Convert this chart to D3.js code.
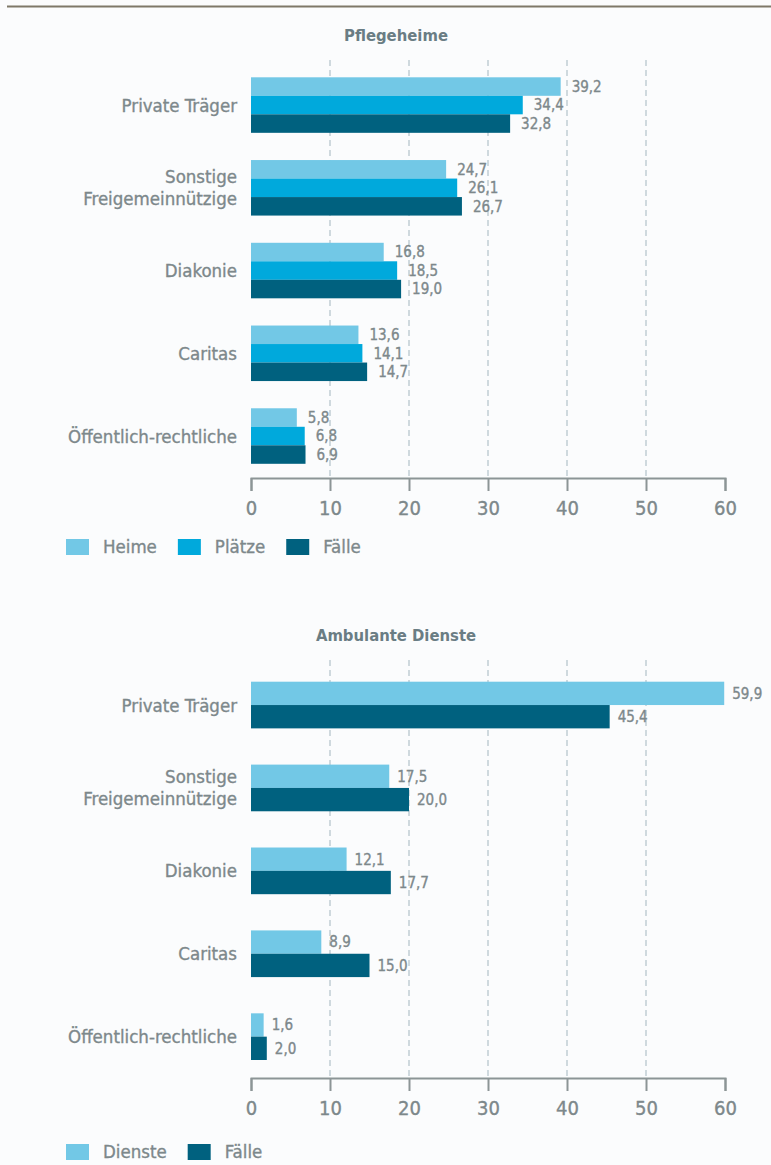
<!DOCTYPE html>
<html>
<head>
<meta charset="utf-8">
<script src="https://cdn.jsdelivr.net/npm/d3@7"></script>
<style>
  html, body { margin: 0; padding: 0; background: #fbfcfd; }
  svg { display: block; }
  text { font-family: "DejaVu Sans Condensed", "DejaVu Sans", sans-serif; font-stretch: condensed; }
  .lbl { stroke: #7d888b; stroke-width: 0.35px; }
</style>
</head>
<body>
<svg id="chart" width="771" height="1165"></svg>
<script>
// ---------- data ----------
const categories = ["Private Träger", "Sonstige Freigemeinnützige", "Diakonie", "Caritas", "Öffentlich-rechtliche"];
const categoryLines = [["Private Träger"], ["Sonstige", "Freigemeinnützige"], ["Diakonie"], ["Caritas"], ["Öffentlich-rechtliche"]];
const tickValues = [0, 10, 20, 30, 40, 50, 60];

const pflegeSeries = ["Heime", "Plätze", "Fälle"];
const pflegeHeime = [39.2, 24.7, 16.8, 13.6, 5.8];
const pflegePlaetze = [34.4, 26.1, 18.5, 14.1, 6.8];
const pflegeFaelle = [32.8, 26.7, 19.0, 14.7, 6.9];

const ambSeries = ["Dienste", "Fälle"];
const ambDienste = [59.9, 17.5, 12.1, 8.9, 1.6];
const ambFaelle = [45.4, 20.0, 17.7, 15.0, 2.0];

// ---------- styles ----------
const colLight = "#72c8e6", colMid = "#00a9dc", colDark = "#00617f";
const textCol = "#7d888b", titleCol = "#6a7d84", axisCol = "#8c9596", gridCol = "#a3b6bf";

const svg = d3.select("#chart");

// top rule
svg.append("line").attr("x1", 7).attr("x2", 771).attr("y1", 6.5).attr("y2", 6.5)
  .attr("stroke", "#7f7868").attr("stroke-width", 2);

const x = d3.scaleLinear().domain([0, 60]).range([251, 725]);

function fmt(v) { return v.toFixed(1).replace(".", ","); }

function drawPanel(cfg) {
  const g = svg.append("g");
  // title
  g.append("text").attr("x", 396).attr("y", cfg.titleY)
    .attr("text-anchor", "middle")
    .attr("font-size", 16.5).attr("font-weight", "bold")
    .attr("fill", titleCol).text(cfg.title);

  // gridlines
  g.selectAll(".grid").data(tickValues.filter(t => t > 0 && t < 60)).enter()
    .append("line")
    .attr("x1", d => x(d)).attr("x2", d => x(d))
    .attr("y1", cfg.gridTop).attr("y2", cfg.axisY)
    .attr("stroke", gridCol).attr("stroke-width", 1)
    .attr("stroke-dasharray", "6,4");

  const y0 = d3.scaleBand().domain(categories).range(cfg.yRange)
    .paddingInner(cfg.pad).paddingOuter(0);
  const y1 = d3.scaleBand().domain(cfg.series).range([0, y0.bandwidth()]).padding(0);

  const rows = [];
  categories.forEach((c, i) => {
    cfg.series.forEach((s, j) => {
      rows.push({ cat: c, ser: s, val: cfg.values[j][i], color: cfg.colors[j] });
    });
  });

  g.selectAll(".bar").data(rows).enter().append("rect")
    .attr("x", x(0))
    .attr("y", d => y0(d.cat) + y1(d.ser))
    .attr("width", d => x(d.val) - x(0))
    .attr("height", y1.bandwidth())
    .attr("fill", d => d.color);

  g.selectAll(".val").data(rows).enter().append("text")
    .attr("class", "lbl")
    .attr("x", d => x(d.val) + cfg.labelGap)
    .attr("y", d => y0(d.cat) + y1(d.ser) + y1.bandwidth() / 2)
    .attr("dy", "0.36em")
    .attr("font-size", 15)
    .attr("fill", textCol).text(d => fmt(d.val));

  // category labels
  categories.forEach((c, i) => {
    const lines = categoryLines[i];
    const cy = y0(c) + y0.bandwidth() / 2;
    lines.forEach((ln, k) => {
      const off = (k - (lines.length - 1) / 2) * 22;
      g.append("text").attr("class", "lbl").attr("x", 237).attr("y", cy + off).attr("dy", "0.35em")
        .attr("text-anchor", "end").attr("font-size", 18.5)
        .attr("fill", textCol).text(ln);
    });
  });

  // axis
  const axis = d3.axisBottom(x).tickValues(tickValues).tickSize(13).tickSizeOuter(13)
    .tickPadding(10).tickFormat(d3.format("d"));
  const ag = g.append("g").attr("transform", `translate(0,${cfg.axisY})`).call(axis);
  ag.select(".domain").attr("stroke", axisCol).attr("stroke-width", 2);
  ag.selectAll(".tick line").attr("stroke", axisCol).attr("stroke-width", 2);
  ag.selectAll(".tick text").attr("class", "lbl").attr("fill", textCol).attr("font-size", 20)
    .style("font-family", "'DejaVu Sans Condensed', sans-serif");

  // legend
  let lx = 66;
  cfg.series.forEach((s, j) => {
    g.append("rect").attr("x", lx).attr("y", cfg.legendY).attr("width", 23).attr("height", 16)
      .attr("fill", cfg.colors[j]);
    const t = g.append("text").attr("class", "lbl").attr("x", lx + 37).attr("y", cfg.legendY + 8).attr("dy", "0.35em")
      .attr("font-size", 18.5).attr("fill", textCol).text(s);
    lx = lx + 37 + t.node().getComputedTextLength() + 21;
  });
}

drawPanel({
  title: "Pflegeheime", titleY: 41, gridTop: 60, axisY: 478,
  yRange: [77.3, 463.8], pad: 0.329,
  series: pflegeSeries, values: [pflegeHeime, pflegePlaetze, pflegeFaelle],
  colors: [colLight, colMid, colDark], labelGap: 11, legendY: 539
});

drawPanel({
  title: "Ambulante Dienste", titleY: 641, gridTop: 660, axisY: 1078,
  yRange: [681.7, 1060], pad: 0.437,
  series: ambSeries, values: [ambDienste, ambFaelle],
  colors: [colLight, colDark], labelGap: 8, legendY: 1144
});
</script>
</body>
</html>
